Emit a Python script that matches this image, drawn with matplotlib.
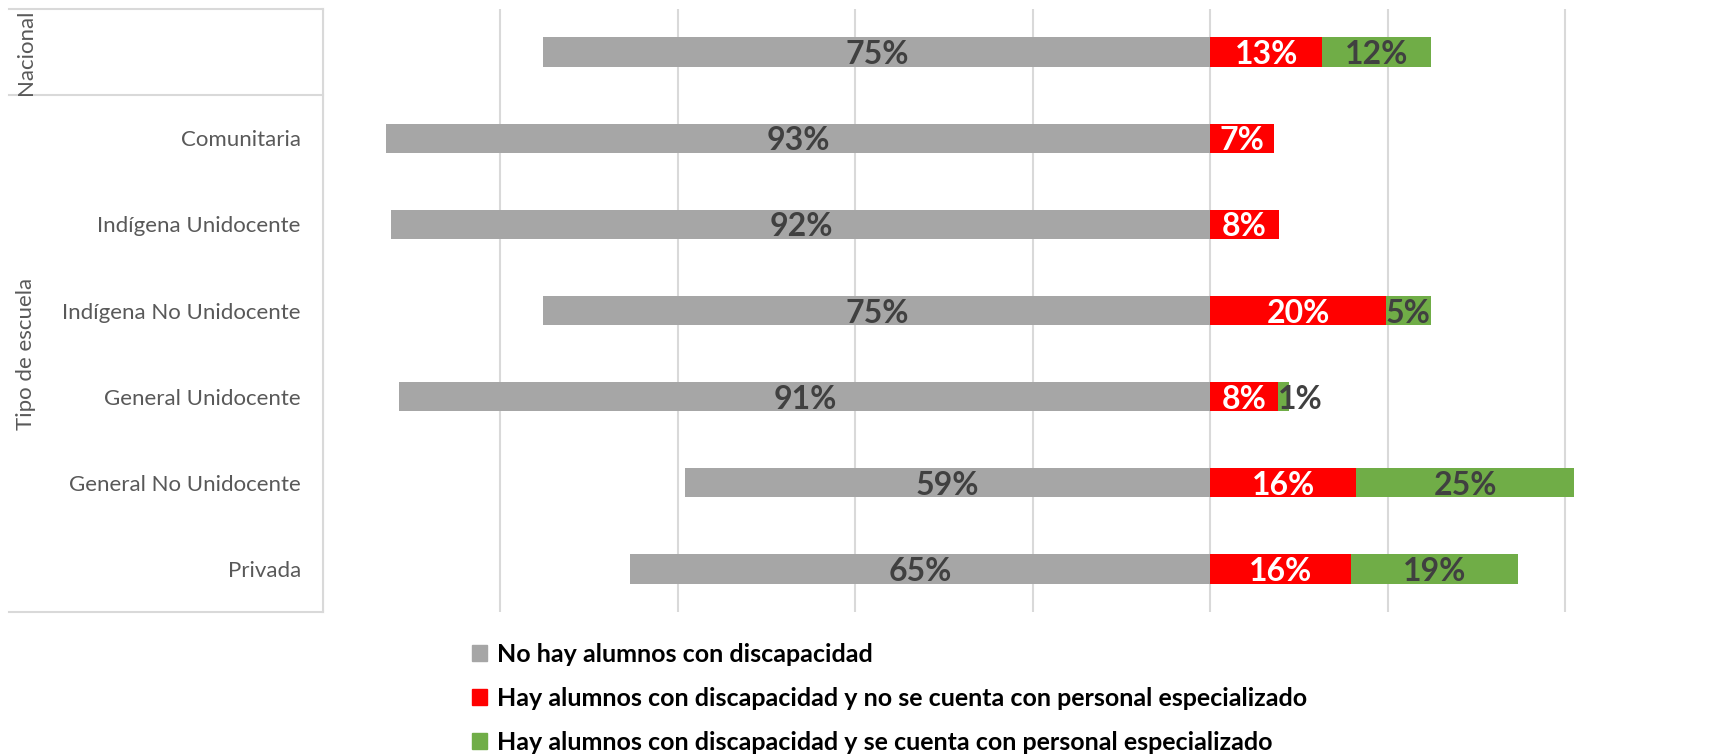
import matplotlib
matplotlib.use("Agg")
from matplotlib import pyplot as plt
import matplotlib.patches as mpatches

plt.rcParams['font.family'] = ['Lato', 'DejaVu Sans']

# filas de arriba hacia abajo
categorias = ['', 'Comunitaria', 'Indígena Unidocente', 'Indígena No Unidocente',
              'General Unidocente', 'General No Unidocente', 'Privada']
no_hay = [75.2, 92.9, 92.3, 75.2, 91.4, 59.2, 65.4]
sin_personal = [12.6, 7.1, 7.7, 19.8, 7.6, 16.4, 15.8]
con_personal = [12.2, 0, 0, 5.0, 1.2, 24.6, 18.8]

grupos = ['Nacional', 'Tipo de escuela']
grupo_filas = [(0, 0), (1, 6)]

serie_nombres = ['No hay alumnos con discapacidad',
                 'Hay alumnos con discapacidad y no se cuenta con personal especializado',
                 'Hay alumnos con discapacidad y se cuenta con personal especializado']
colores = ['#a6a6a6', '#ff0000', '#70ad47']
color_txt = ['#404040', 'white', '#404040']

W, H = 1735, 754
fig = plt.figure(figsize=(W / 100, H / 100), dpi=100)
ax = fig.add_axes([323 / W, 1 - 612 / H, 1 - 323 / W, (612 - 9) / H])

y = list(range(len(categorias)))
alto = 0.34
ax.barh(y, [-v for v in no_hay], height=alto, color=colores[0], zorder=2)
ax.barh(y, sin_personal, height=alto, color=colores[1], zorder=2)
ax.barh(y, con_personal, left=sin_personal, height=alto, color=colores[2], zorder=2)

for i in y:
    segs = [(-no_hay[i], 0), (0, sin_personal[i]),
            (sin_personal[i], sin_personal[i] + con_personal[i])]
    for k, (a, b) in enumerate(segs):
        v = abs(b - a)
        if v <= 0:
            continue
        s = '%d%%' % round(v)
        if v < 3:
            # barra muy corta: la etiqueta arranca en el inicio del segmento
            ax.text(a, i + 0.03, s, ha='left', va='center', fontsize=23,
                    fontweight='bold', color='#404040', zorder=3)
        else:
            ax.text((a + b) / 2, i + 0.03, s, ha='center', va='center', fontsize=23,
                    fontweight='bold', color=color_txt[k], zorder=3)

ax.set_xlim(-100, 59.1)
ax.set_ylim(len(categorias) - 0.5, -0.5)
ax.set_xticks(range(-100, 60, 20))
ax.set_xticklabels([])
ax.grid(axis='x', color='#d9d9d9', linewidth=1.5, zorder=0)
ax.tick_params(axis='both', length=0)
ax.set_yticks(y)
ax.set_yticklabels(categorias, fontsize=16, color='#595959')
ax.tick_params(axis='y', pad=16)
for sp in ['top', 'right', 'bottom']:
    ax.spines[sp].set_visible(False)
ax.spines['left'].set_color('#d9d9d9')
ax.spines['left'].set_linewidth(1.5)

# lineas de la zona de etiquetas
tr = ax.get_yaxis_transform()
x0 = (9 - 323) / (W - 323)
for yy in [-0.5, 0.5, len(categorias) - 0.5]:
    ax.plot([x0, 0], [yy, yy], transform=tr, color='#d9d9d9', linewidth=1.5,
            clip_on=False)
for g, (a, b) in zip(grupos, grupo_filas):
    ax.text((26 - 323) / (W - 323), (a + b) / 2, g, transform=tr, rotation=90,
            ha='center', va='center', fontsize=16, color='#595959')

handles = [mpatches.Patch(color=c, label=n) for c, n in zip(colores, serie_nombres)]
leg = fig.legend(handles=handles, loc='upper left', bbox_to_anchor=(472 / W, 1 - 643 / H),
                 frameon=False, handlelength=0.6, handleheight=0.6, handletextpad=0.4,
                 labelspacing=0.83, borderpad=0, borderaxespad=0,
                 prop={'size': 18, 'weight': 'bold'})

plt.savefig('out.png', dpi=100)
